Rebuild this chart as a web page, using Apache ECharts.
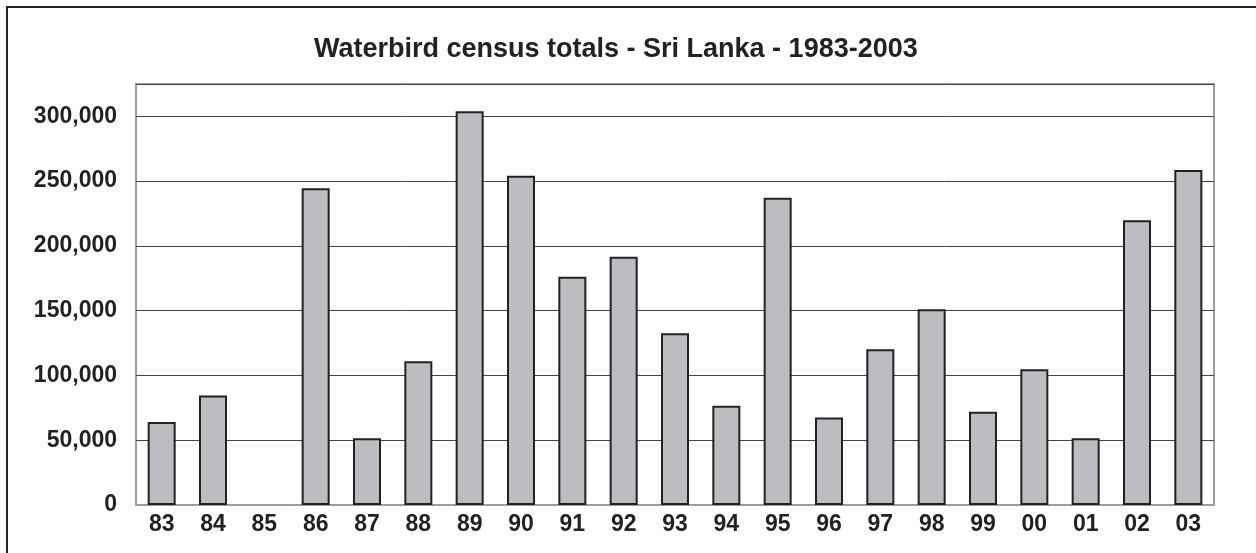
<!DOCTYPE html>
<html>
<head>
<meta charset="utf-8">
<script src="https://cdn.jsdelivr.net/npm/echarts@6/dist/echarts.min.js"></script>
<style>
  html, body { margin: 0; padding: 0; background: #fff; }
  #chart { width: 1256px; height: 553px; }
</style>
</head>
<body>
<div id="chart"></div>
<script>
// census years (two-digit) and totals
var years = ['83', '84', '85', '86', '87', '88', '89', '90', '91', '92', '93',
             '94', '95', '96', '97', '98', '99', '00', '01', '02', '03'];
var totals = [64000, 84600, null, 244600, 51600, 110900, 303900, 254100, 176200, 191700, 132600,
              76600, 237100, 67600, 120200, 151200, 72000, 104700, 51600, 219800, 258700];
var yMax = 325000;
var yStep = 50000;

var font = '"Liberation Sans", Arial, sans-serif';
var chart = echarts.init(document.getElementById('chart'));

var option = {
    backgroundColor: '#fff',
    animation: false,
    title: {
        text: 'Waterbird census totals - Sri Lanka - 1983-2003',
        left: 309,
        top: 31,
        textStyle: {
            fontFamily: font,
            fontSize: 27,
            fontWeight: 'bold',
            color: '#222'
        }
    },
    graphic: [
        // outer frame, top and left edges only
        { type: 'line', shape: { x1: 6, y1: 7, x2: 1256, y2: 7 }, style: { stroke: '#222', lineWidth: 2 } },
        { type: 'line', shape: { x1: 7, y1: 6, x2: 7, y2: 553 }, style: { stroke: '#222', lineWidth: 2 } }
    ],
    grid: {
        left: 136,
        right: 42,
        top: 84,
        bottom: 48,
        show: true,
        borderColor: '#9a9ea2',
        borderWidth: 2
    },
    xAxis: {
        type: 'category',
        data: years,
        axisTick: { show: false },
        axisLine: { lineStyle: { color: '#9a9ea2', width: 2 } },
        axisLabel: {
            margin: 8,
            fontFamily: font,
            fontSize: 23,
            fontWeight: 'bold',
            color: '#222'
        }
    },
    yAxis: {
        type: 'value',
        min: 0,
        max: yMax,
        interval: yStep,
        axisLine: { show: false },
        axisTick: { show: false },
        splitLine: { lineStyle: { color: '#444', width: 1 } },
        axisLabel: {
            showMaxLabel: false,
            margin: 19,
            fontFamily: font,
            fontSize: 23,
            fontWeight: 'bold',
            color: '#222',
            formatter: function (v) { return v.toLocaleString('en-US'); }
        }
    },
    series: [{
        type: 'bar',
        data: totals,
        barWidth: 28,
        itemStyle: {
            color: '#bcbdc1',
            borderColor: '#222',
            borderWidth: 2
        }
    }]
};

chart.setOption(option);
window.addEventListener('resize', function () { chart.resize(); });
</script>
</body>
</html>
